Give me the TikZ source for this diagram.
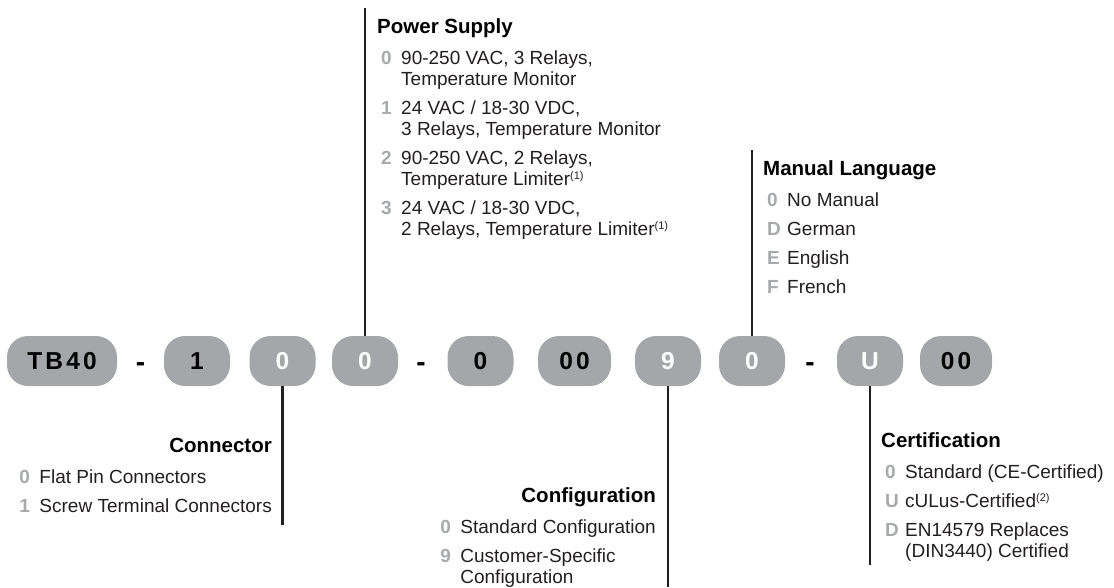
\documentclass[tikz,border=0pt]{standalone}
\usepackage{fontspec}
\setmainfont{Liberation Sans}
\newfontfamily\pillfont[LetterSpace=13]{Liberation Sans}
\usetikzlibrary{positioning}
\definecolor{pillgray}{HTML}{A4A6A9}
\definecolor{codegray}{HTML}{A7A9AC}
\definecolor{inkdark}{HTML}{231F20}
\newcommand{\code}[1]{\makebox[20pt][l]{\textcolor{codegray}{\bfseries #1}}}
\newcommand{\hdr}[1]{{\fontsize{20.5}{21}\selectfont\bfseries\color{black}#1}}
\newcommand{\fnote}[1]{\raisebox{6pt}{\fontsize{11}{11}\selectfont(#1)}}
\newcommand{\bodyfont}{\fontsize{19}{21}\selectfont}

\begin{document}
\begin{tikzpicture}[x=1pt, y=-1pt,
  pill/.style={fill=pillgray, rounded corners=21pt, minimum height=50pt,
    minimum width=66pt, inner sep=0pt,
    font=\pillfont\bfseries\fontsize{24.5}{24}\selectfont},
  hyph/.style={inner sep=0pt, anchor=base, font=\bfseries\fontsize{28}{28}\selectfont},
  block/.style={inner sep=0pt, text=inkdark, font=\bodyfont},
  lead/.style={line width=2.4pt, draw=inkdark}]
\useasboundingbox (0,0) rectangle (1114,587);

% the code row
\node[pill, minimum width=110pt] (model) at (62,361) {TB40};
\node[hyph] (dsh1) at (140.5,371) {-};
\node[pill] (fix1) at (197,361) {1};
\node[pill, text=white] (conn) at (282.5,361) {0};
\node[pill, text=white] (power) at (365,361) {0};
\node[hyph] (dsh2) at (421,371) {-};
\node[pill] (fix2) at (480.5,361) {0};
\node[pill, minimum width=73pt] (fix3) at (574.5,361) {00};
\node[pill, text=white] (config) at (668,361) {9};
\node[pill, text=white] (manual) at (752,361) {0};
\node[hyph] (dsh3) at (810,371) {-};
\node[pill, text=white] (cert) at (870,361) {U};
\node[pill, minimum width=72pt] (fix4) at (956,361) {00};

% lead lines
\coordinate (powtop) at (365,8);
\coordinate (mantop) at (752,150);
\coordinate (connend) at (282.5,525);
\coordinate (confend) at (668,587);
\coordinate (certend) at (870,565);
\draw[lead] (power.north) -- (powtop);
\draw[lead] (manual.north) -- (mantop);
\draw[lead] (conn.south) -- (connend);
\draw[lead] (config.south) -- (confend);
\draw[lead] (cert.south) -- (certend);

% option lists
\node[block, anchor=base west] (powerbox) at (377,33) {\begin{tabular}[t]{@{\hspace{4pt}}l@{}l@{}}
\multicolumn{2}{@{}l@{}}{\hdr{Power Supply}}\\[10pt]
\code{0} & 90-250 VAC, 3 Relays,\\
 & Temperature Monitor\\[8pt]
\code{1} & 24 VAC / 18-30 VDC,\\
 & 3 Relays, Temperature Monitor\\[8pt]
\code{2} & 90-250 VAC, 2 Relays,\\
 & Temperature Limiter\fnote{1}\\[8pt]
\code{3} & 24 VAC / 18-30 VDC,\\
 & 2 Relays, Temperature Limiter\fnote{1}
\end{tabular}};

\node[block, anchor=base west] (manualbox) at (763,175) {\begin{tabular}[t]{@{\hspace{4pt}}l@{}l@{}}
\multicolumn{2}{@{}l@{}}{\hdr{Manual Language}}\\[10pt]
\code{0} & No Manual\\[8pt]
\code{D} & German\\[8pt]
\code{E} & English\\[8pt]
\code{F} & French
\end{tabular}};

\node[block, anchor=base east] (connbox) at (272,452) {\begin{tabular}[t]{@{\hspace{4pt}}l@{}l@{}}
\multicolumn{2}{@{}r@{}}{\hdr{Connector}}\\[10pt]
\code{0} & Flat Pin Connectors\\[8pt]
\code{1} & Screw Terminal Connectors
\end{tabular}};

\node[block, anchor=base east] (configbox) at (656,502) {\begin{tabular}[t]{@{\hspace{4pt}}l@{}l@{}}
\multicolumn{2}{@{}r@{}}{\hdr{Configuration}}\\[10pt]
\code{0} & Standard Configuration\\[8pt]
\code{9} & Customer-Specific\\
 & Configuration
\end{tabular}};

\node[block, anchor=base west] (certbox) at (881,447) {\begin{tabular}[t]{@{\hspace{4pt}}l@{}l@{}}
\multicolumn{2}{@{}l@{}}{\hdr{Certification}}\\[10pt]
\code{0} & Standard (CE-Certified)\\[8pt]
\code{U} & cULus-Certified\fnote{2}\\[8pt]
\code{D} & EN14579 Replaces\\
 & (DIN3440) Certified
\end{tabular}};

\end{tikzpicture}
\end{document}
